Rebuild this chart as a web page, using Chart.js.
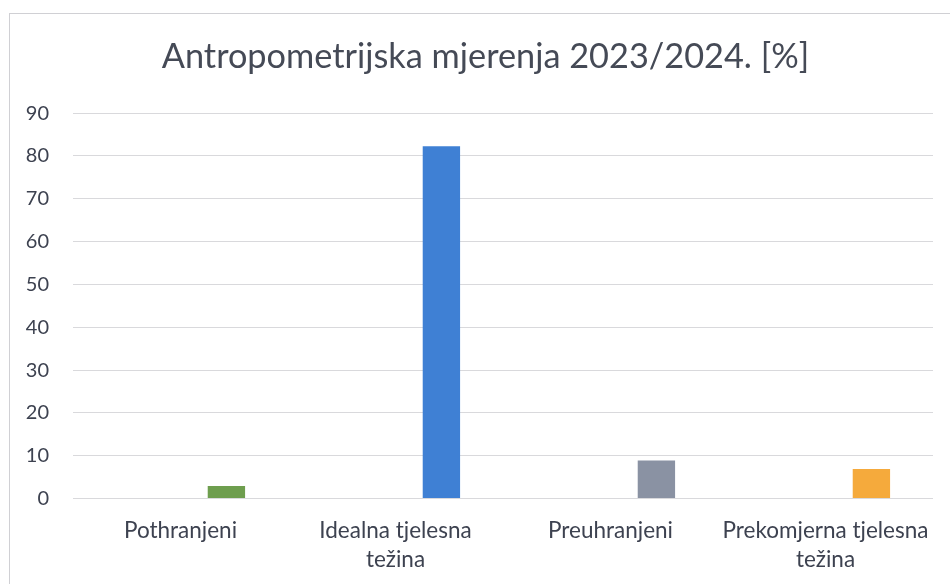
<!DOCTYPE html>
<html>
<head>
<meta charset="utf-8">
<script src="https://cdn.jsdelivr.net/npm/chart.js@4"></script>
<style>
  html, body { margin: 0; padding: 0; background: #fff; }
  #wrap { position: relative; width: 950px; height: 584px; }
  #frame {
    position: absolute; left: 9px; top: 13px; right: 0; bottom: -2px;
    border-left: 1px solid #d0d0d4; border-top: 1px solid #d0d0d4;
  }
  canvas { position: absolute; left: 0; top: 0; }
</style>
</head>
<body>
<div id="wrap">
  <div id="frame"></div>
  <canvas id="chart" width="950" height="584"></canvas>
</div>
<script>
// chart data
const titleText = 'Antropometrijska mjerenja 2023/2024. [%]';
const categories = [
  'Pothranjeni',
  ['Idealna tjelesna', 'težina'],
  'Preuhranjeni',
  ['Prekomjerna tjelesna', 'težina']
];
const values = [2.9, 82.3, 8.9, 6.9];
const emptySlot = [null, null, null, null];
const barColors = ['#6e9e4e', '#3f80d4', '#8a92a3', '#f5aa3c'];
const yTicks = [0, 10, 20, 30, 40, 50, 60, 70, 80, 90];

const textColor = '#3d4250';
const gridColor = '#d9d9dc';

// title in the sheet is centred on the whole frame, not on the plot
const titleShift = {
  id: 'titleShift',
  afterLayout(chart) {
    if (chart.titleBlock) chart.titleBlock.left += 38;
  }
};

const ctx = document.getElementById('chart').getContext('2d');
new Chart(ctx, {
  type: 'bar',
  data: {
    labels: categories,
    datasets: [
      // empty first series, the bars sit in the second slot like in the sheet
      { data: emptySlot, backgroundColor: barColors },
      { data: values, backgroundColor: barColors }
    ]
  },
  options: {
    responsive: false,
    animation: false,
    datasets: {
      bar: { categoryPercentage: 0.854, barPercentage: 0.407 }
    },
    layout: { padding: { left: 0, right: 17, top: 0, bottom: 0 } },
    plugins: {
      legend: { display: false },
      tooltip: { enabled: false },
      title: {
        display: true,
        text: titleText,
        color: '#454a56',
        font: { family: 'Lato', size: 34.3, weight: 'normal' },
        padding: { top: 36, bottom: 36 }
      }
    },
    scales: {
      x: {
        grid: { display: false },
        border: { display: false },
        ticks: {
          color: textColor,
          font: { family: 'Lato', size: 22.5, lineHeight: 1.28 },
          padding: 10,
          maxRotation: 0,
          autoSkip: false
        },
        afterFit: (scale) => { scale.height = 85.5; }
      },
      y: {
        min: 0,
        max: 90,
        afterBuildTicks: (scale) => {
          scale.ticks = yTicks.map(v => ({ value: v }));
        },
        grid: { color: gridColor, drawTicks: false },
        border: { display: false },
        ticks: {
          color: textColor,
          font: { family: 'Lato', size: 20 },
          padding: 24
        },
        afterFit: (scale) => { scale.width = 73; }
      }
    }
  },
  plugins: [titleShift]
});
</script>
</body>
</html>
